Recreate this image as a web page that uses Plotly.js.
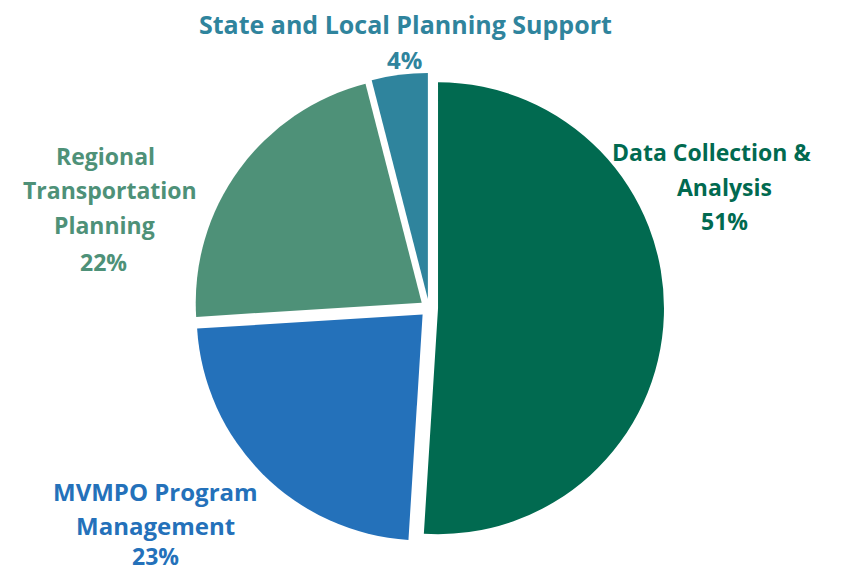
<!DOCTYPE html>
<html>
<head>
<meta charset="utf-8">
<script src="https://cdn.plot.ly/plotly-3.0.1.min.js"></script>
<style>
  html, body { margin: 0; padding: 0; background: #fff; }
  #chart { width: 842px; height: 574px; }
</style>
</head>
<body>
<div id="chart"></div>
<script>
const categories = [
  "Data Collection & Analysis",
  "MVMPO Program Management",
  "Regional Transportation Planning",
  "State and Local Planning Support"
];
const shares = [51, 23, 22, 4];
const sliceColors = ["#016a50", "#2471ba", "#4e9178", "#2f849d"];
// label lines as set in the chart
const labelLines = [
  ["Data Collection &", "Analysis"],
  ["MVMPO Program", "Management"],
  ["Regional", "Transportation", "Planning"],
  ["State and Local Planning Support"]
];

// label placement in pixels (centre of each line, last one is the %)
const lineX = [
  [711, 724, 724],
  [155, 155, 155],
  [105, 110, 104, 103],
  [405, 404]
];
const lineY = [
  [152, 187, 221],
  [491, 525, 556],
  [156, 190, 225, 262],
  [24, 59]
];
const lineSize = [
  [23, 23, 23],
  [24, 24, 23],
  [23, 23, 23, 23],
  [25, 24]
];

const W = 842, H = 574;

const trace = {
  type: "pie",
  values: shares,
  labels: categories,
  sort: false,
  direction: "clockwise",
  rotation: 0,
  pull: [0.04, 0.04, 0.04, 0.04],
  marker: { colors: sliceColors, line: { width: 0 } },
  textinfo: "none",
  hoverinfo: "label+percent",
  showlegend: false,
  domain: { x: [0.2304, 0.7886], y: [0.054, 0.8728] }
};

const annotations = [];
categories.forEach((c, i) => {
  const lines = labelLines[i].concat([shares[i] + "%"]);
  lines.forEach((t, j) => {
    annotations.push({
      xref: "paper", yref: "paper",
      x: lineX[i][j] / W,
      y: 1 - lineY[i][j] / H,
      xanchor: "center", yanchor: "middle",
      showarrow: false,
      text: t,
      font: { family: "'Open Sans', sans-serif", size: lineSize[i][j], color: sliceColors[i], weight: "bold" }
    });
  });
});

const layout = {
  width: W,
  height: H,
  margin: { l: 0, r: 0, t: 0, b: 0 },
  paper_bgcolor: "#fff",
  plot_bgcolor: "#fff",
  annotations: annotations
};

Plotly.newPlot("chart", [trace], layout, { displayModeBar: false });
</script>
</body>
</html>
